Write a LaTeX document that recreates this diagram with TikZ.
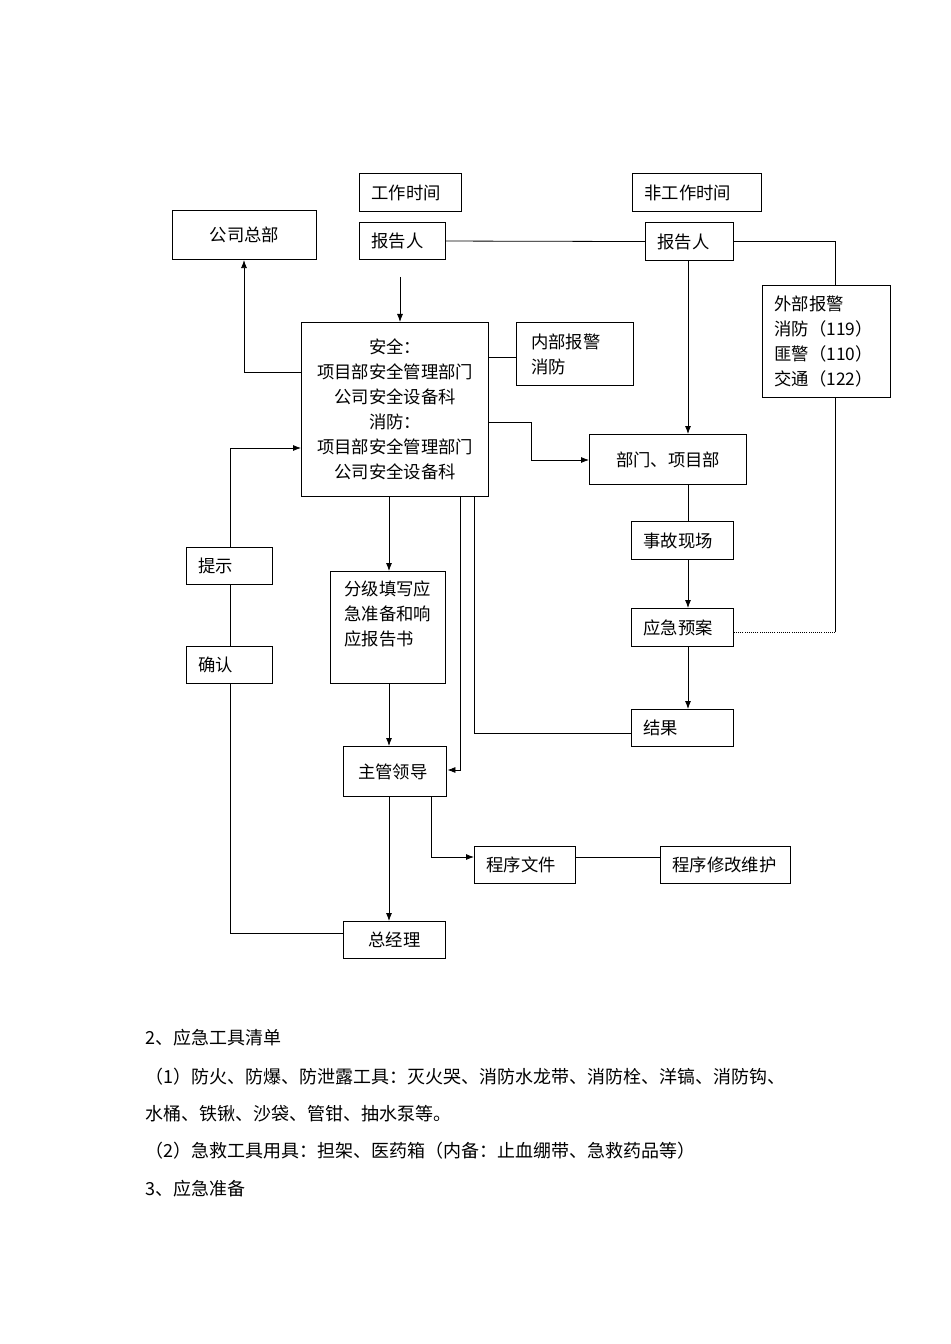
\documentclass[tikz,border=0pt]{standalone}
\usepackage{fontspec}
\setmainfont{Noto Sans CJK SC}
\usetikzlibrary{arrows.meta}
\begin{document}
\begin{tikzpicture}[x=0.75pt,y=-0.75pt,
  box/.style={draw,line width=0.8pt,inner xsep=9pt,inner ysep=0pt,align=left,anchor=north west,font=\fontsize{13}{18.75}\selectfont},
  cbox/.style={box,align=center},
  txt/.style={font=\fontsize{13.5}{18.75}\selectfont,anchor=west,inner sep=0pt},
  ln/.style={line width=0.6pt},
  >={Latex[length=6pt,width=4.5pt]}]
\useasboundingbox (0,0) rectangle (950,1344);
\node[box,text width=58.5pt,minimum height=28.5pt] (gz) at (359,173) {工作时间};
\node[box,text width=78.75pt,minimum height=28.5pt] (fgz) at (632,173) {非工作时间};
\node[cbox,text width=90pt,minimum height=36.75pt] (gs) at (172,210) {公司总部};
\node[box,text width=46.5pt,minimum height=27.75pt] (bl) at (359,222) {报告人};
\node[box,text width=48pt,minimum height=28.5pt] (br) at (645,222) {报告人};
\node[box,text width=78pt,minimum height=84pt] (wb) at (762,285) {外部报警\\消防（119）\\匪警（110）\\交通（122）};
\node[cbox,text width=122.25pt,minimum height=130.5pt] (main) at (301,322) {安全：\\项目部安全管理部门\\公司安全设备科\\消防：\\项目部安全管理部门\\公司安全设备科};
\node[box,inner xsep=11pt,text width=66pt,minimum height=47.25pt] (nb) at (516,322) {内部报警\\消防};
\node[cbox,text width=99.75pt,minimum height=37.5pt] (bm) at (589,434) {部门、项目部};
\node[box,text width=58.5pt,minimum height=28.5pt] (sg) at (631,521) {事故现场};
\node[box,text width=46.5pt,minimum height=27.75pt] (ts) at (186,547) {提示};
\node[box,minimum width=86.25pt,minimum height=84pt] (fj) at (330,571) {};
\node[box,draw=none,anchor=north west,inner xsep=0pt] (fjt) at (344,580) {分级填写应\\急准备和响\\应报告书};
\node[box,text width=58.5pt,minimum height=28.5pt] (ya) at (631,608) {应急预案};
\node[box,text width=46.5pt,minimum height=27.75pt] (qr) at (186,646) {确认};
\node[box,text width=58.5pt,minimum height=27.75pt] (jg) at (631,709) {结果};
\node[box,inner xsep=11pt,text width=55.5pt,minimum height=37.5pt] (zg) at (343,746) {主管领导};
\node[box,text width=57.75pt,minimum height=27.75pt] (cx) at (474,846) {程序文件};
\node[box,text width=79.5pt,minimum height=27.75pt] (cxw) at (660,846) {程序修改维护};
\node[cbox,text width=58.5pt,minimum height=27.75pt] (zj) at (343,921) {总经理};
\coordinate (s1) at (400,277);
% connectors
\draw[ln] (bl.east) -- (br.west);
\draw[ln] (br.east) -| (wb.north -| 835,0);
\draw[ln] (wb.south -| 835,0) -- (835,632);
\draw[ln,densely dotted] (835,632) -- (ya.east |- 0,632);
\draw[ln,->] (s1) -- (main.north -| s1);
\draw[ln,->] (main.west |- 0,372) -| (gs.south -| 244,0);
\draw[ln] (main.east |- 0,357) -- (nb.west |- 0,357);
\draw[ln,->] (main.east |- 0,422) -| (531,460) -- (bm.west |- 0,460);
\draw[ln,->] (br.south -| 688,0) -- (bm.north -| 688,0);
\draw[ln] (bm.south -| 688,0) -- (sg.north -| 688,0);
\draw[ln,->] (sg.south -| 688,0) -- (ya.north -| 688,0);
\draw[ln,->] (ya.south -| 688,0) -- (jg.north -| 688,0);
\draw[ln] (jg.west |- 0,733) -| (main.south -| 474,0);
\draw[ln,->] (main.south -| 460,0) |- (zg.east |- 0,770);
\draw[ln,->] (main.south -| 389,0) -- (fj.north -| 389,0);
\draw[ln,->] (fj.south -| 389,0) -- (zg.north -| 389,0);
\draw[ln,->] (zg.south -| 389,0) -- (zj.north -| 389,0);
\draw[ln,->] (zg.south -| 431,0) |- (cx.west |- 0,857);
\draw[ln] (cx.east |- 0,857) -- (cxw.west |- 0,857);
\draw[ln] (zj.west |- 0,933) -| (qr.south -| 230,0);
\draw[ln] (qr.north -| 230,0) -- (ts.south -| 230,0);
\draw[ln,->] (ts.north -| 230,0) |- (main.west |- 0,448);
% bottom text
\node[txt] (t1) at (145,1038) {2、应急工具清单};
\node[txt] (t2) at (145,1077) {（1）防火、防爆、防泄露工具：灭火哭、消防水龙带、消防栓、洋镐、消防钩、};
\node[txt] (t3) at (145,1114) {水桶、铁锹、沙袋、管钳、抽水泵等。};
\node[txt] (t4) at (145,1151) {（2）急救工具用具：担架、医药箱（内备：止血绷带、急救药品等）};
\node[txt] (t5) at (145,1189) {3、应急准备};
\end{tikzpicture}
\end{document}
